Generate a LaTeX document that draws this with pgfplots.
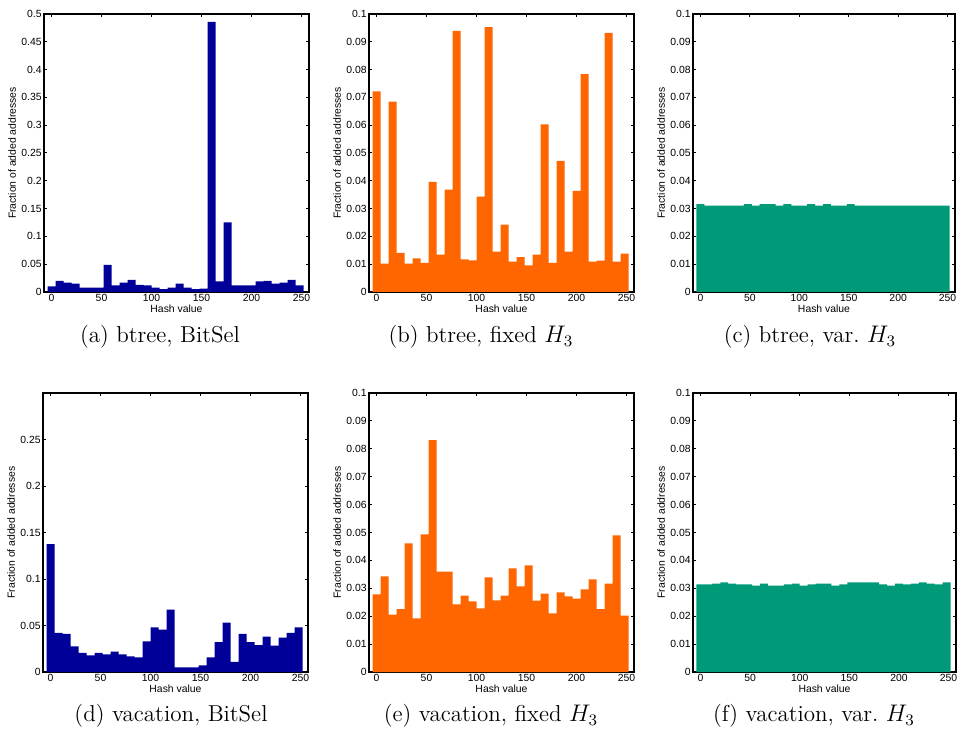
\documentclass[border=0pt]{standalone}
\usepackage{fontspec}
\newfontfamily\helv{Liberation Sans}
\usepackage{pgfplots}
\pgfplotsset{compat=1.18}
\definecolor{hblue}{HTML}{000099}
\definecolor{horange}{HTML}{FF6600}
\definecolor{hgreen}{HTML}{009A78}

% 1 px of the reference = 0.5pt
\pgfplotsset{
  hist/.style={
    scale only axis, width=132.5pt, height=139pt,
    anchor=south west,
    xmin=-7.5, xmax=257.5, ymin=0,
    xtick={0,50,...,250},
    ybar, bar width=8,
    tick align=inside, major tick length=1.6pt,
    axis line style={line width=0.6pt}, every tick/.style={line width=0.5pt, black},
    ticklabel style={font=\helv\fontsize{5.2}{6}\selectfont},
    /pgf/number format/assume math mode=true,
    scaled y ticks=false,
    yticklabel style={/pgf/number format/fixed, /pgf/number format/precision=2, inner sep=1pt},
    xticklabel style={inner sep=1pt},
    xlabel={Hash value}, ylabel={Fraction of added addresses},
    label style={font=\helv\fontsize{5.2}{6}\selectfont},
    xlabel style={inner sep=0.5pt},
    ylabel style={inner sep=1.5pt},
  },
}
\tikzset{subcap/.style={font=\fontsize{11.5}{14}\selectfont, anchor=center}}

\begin{document}
\begin{tikzpicture}
\useasboundingbox (0,0) rectangle (481pt,-368.5pt);

% (a) btree, BitSel
\begin{axis}[hist, at={(22pt,-146pt)}, ymax=0.5, ytick={0,0.05,...,0.5}]
\addplot[fill=hblue, draw=none] coordinates {
(0,0.010) (8,0.020) (16,0.017) (24,0.015) (32,0.008) (40,0.008) (48,0.008) (56,0.049)
(64,0.012) (72,0.017) (80,0.022) (88,0.013) (96,0.012) (104,0.008) (112,0.005) (120,0.008)
(128,0.015) (136,0.008) (144,0.005) (152,0.006) (160,0.486) (168,0.019) (176,0.125) (184,0.012)
(192,0.012) (200,0.012) (208,0.019) (216,0.020) (224,0.015) (232,0.017) (240,0.022) (248,0.012)};
\end{axis}

% (b) btree, fixed H3
\begin{axis}[hist, at={(184.5pt,-146pt)}, ymax=0.1, ytick={0,0.01,...,0.1}]
\addplot[fill=horange, draw=none] coordinates {
(0,0.0722) (8,0.0102) (16,0.0685) (24,0.0141) (32,0.0102) (40,0.0121) (48,0.0105) (56,0.0396)
(64,0.0134) (72,0.0368) (80,0.0939) (88,0.0117) (96,0.0114) (104,0.0343) (112,0.0953) (120,0.0145)
(128,0.0242) (136,0.0109) (144,0.0125) (152,0.0096) (160,0.0134) (168,0.0603) (176,0.0105) (184,0.0472)
(192,0.0145) (200,0.0364) (208,0.0784) (216,0.0109) (224,0.0113) (232,0.0932) (240,0.0109) (248,0.0138)};
\end{axis}

% (c) btree, var. H3
\begin{axis}[hist, at={(346.5pt,-146pt)}, width=131pt, ymax=0.1, ytick={0,0.01,...,0.1}]
\addplot[fill=hgreen, draw=none] coordinates {
(0,0.0316) (8,0.0311) (16,0.0311) (24,0.0311) (32,0.0311) (40,0.0311) (48,0.0316) (56,0.0311)
(64,0.0316) (72,0.0316) (80,0.0311) (88,0.0316) (96,0.0311) (104,0.0311) (112,0.0316) (120,0.0311)
(128,0.0316) (136,0.0311) (144,0.0311) (152,0.0316) (160,0.0311) (168,0.0311) (176,0.0311) (184,0.0311)
(192,0.0311) (200,0.0311) (208,0.0311) (216,0.0311) (224,0.0311) (232,0.0311) (240,0.0311) (248,0.0311)};
\end{axis}

% (d) vacation, BitSel
\begin{axis}[hist, at={(21.5pt,-336pt)}, height=139.5pt, ymax=0.3, ytick={0,0.05,...,0.25}]
\addplot[fill=hblue, draw=none] coordinates {
(0,0.1375) (8,0.042) (16,0.041) (24,0.0275) (32,0.0207) (40,0.018) (48,0.0207) (56,0.019)
(64,0.0218) (72,0.019) (80,0.0168) (88,0.0157) (96,0.033) (104,0.048) (112,0.0457) (120,0.067)
(128,0.005) (136,0.005) (144,0.005) (152,0.007) (160,0.0157) (168,0.032) (176,0.053) (184,0.011)
(192,0.041) (200,0.032) (208,0.029) (216,0.038) (224,0.0285) (232,0.037) (240,0.042) (248,0.048)};
\end{axis}

% (e) vacation, fixed H3
\begin{axis}[hist, at={(184.5pt,-336pt)}, height=139.5pt, ymax=0.1, ytick={0,0.01,...,0.1}]
\addplot[fill=horange, draw=none] coordinates {
(0,0.0278) (8,0.0343) (16,0.0206) (24,0.0225) (32,0.0461) (40,0.0192) (48,0.0493) (56,0.0831)
(64,0.036) (72,0.036) (80,0.0242) (88,0.0274) (96,0.0253) (104,0.0228) (112,0.0339) (120,0.0257)
(128,0.0274) (136,0.0371) (144,0.0307) (152,0.0382) (160,0.0256) (168,0.0281) (176,0.021) (184,0.0285)
(192,0.0271) (200,0.0263) (208,0.0296) (216,0.0332) (224,0.0225) (232,0.0317) (240,0.049) (248,0.0202)};
\end{axis}

% (f) vacation, var. H3
\begin{axis}[hist, at={(346.5pt,-336pt)}, width=131.5pt, height=139.5pt, ymax=0.1, ytick={0,0.01,...,0.1}]
\addplot[fill=hgreen, draw=none] coordinates {
(0,0.0314) (8,0.0314) (16,0.0317) (24,0.0321) (32,0.0317) (40,0.0314) (48,0.0314) (56,0.031)
(64,0.0317) (72,0.031) (80,0.031) (88,0.0314) (96,0.0317) (104,0.031) (112,0.0314) (120,0.0317)
(128,0.0317) (136,0.031) (144,0.0314) (152,0.0321) (160,0.0321) (168,0.0321) (176,0.0321) (184,0.0314)
(192,0.031) (200,0.0317) (208,0.0314) (216,0.0317) (224,0.0321) (232,0.0317) (240,0.0314) (248,0.0321)};
\end{axis}

% sub-captions
\node[subcap] at (80pt,-168.5pt) {(a) btree, BitSel};
\node[subcap] at (240.5pt,-168.5pt) {(b) btree, fixed $H_3$};
\node[subcap] at (405pt,-168.5pt) {(c) btree, var.\ $H_3$};
\node[subcap] at (85.5pt,-358pt) {(d) vacation, BitSel};
\node[subcap] at (245.5pt,-358pt) {(e) vacation, fixed $H_3$};
\node[subcap] at (407pt,-358pt) {(f) vacation, var.\ $H_3$};
\end{tikzpicture}
\end{document}
